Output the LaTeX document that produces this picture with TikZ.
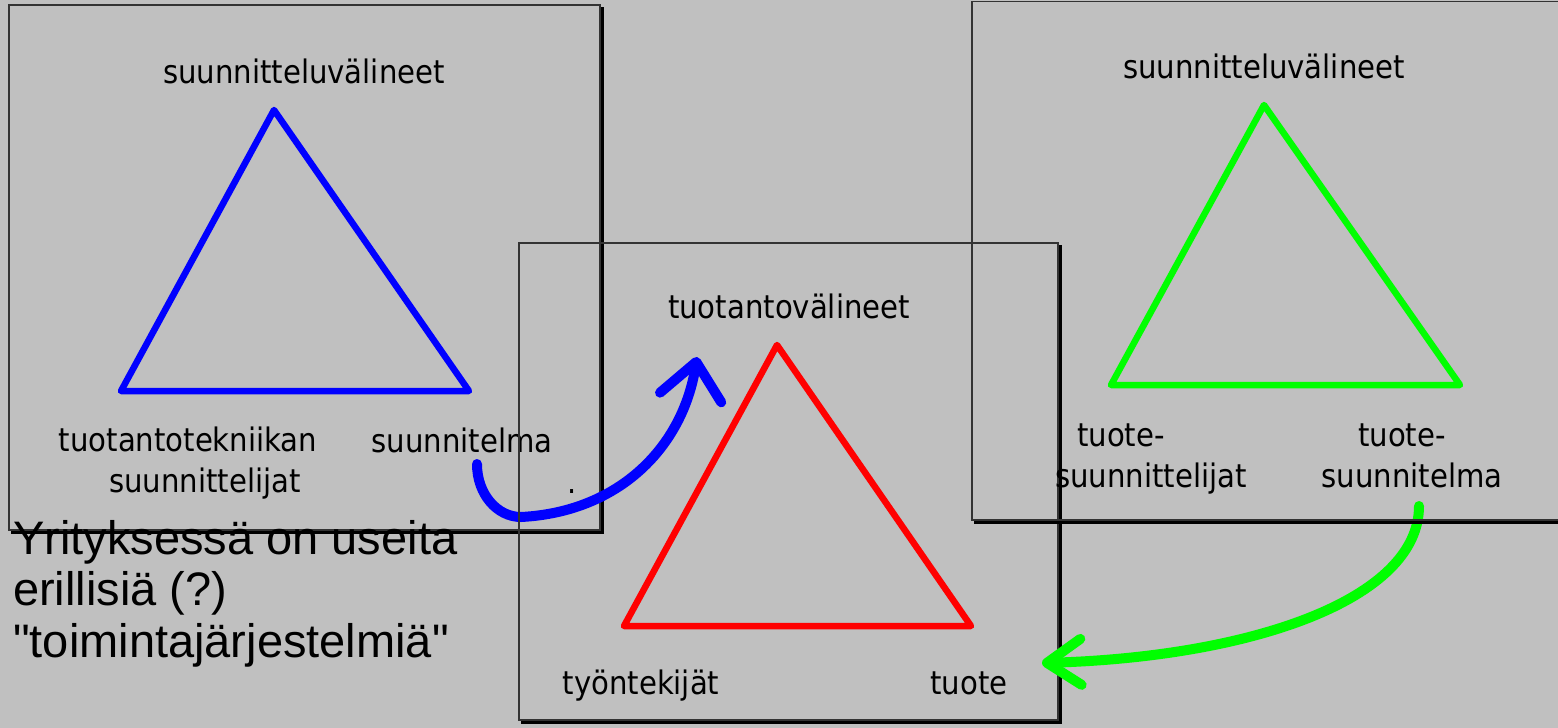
\documentclass[tikz,border=0pt]{standalone}
\usepackage{fontspec}
\setmainfont{DejaVu Sans Condensed}
\newfontfamily\notefont{Liberation Sans}
\usetikzlibrary{
	arrows.meta
}
\definecolor{slide}{RGB}{192,192,192}
\definecolor{tjblue}{RGB}{0,0,255}
\definecolor{tjred}{RGB}{255,0,0}
\definecolor{tjgreen}{RGB}{0,255,0}
\tikzset{
	TJ-Frame/.style={line width=1.2pt,draw=black!80},
	TJ-Shadow/.style={line width=3pt,draw=black},
	TJ-Triangle/.style={line width=6.5pt,line join=round,line cap=round},
	TJ-Label/.style={font=\fontsize{32.4}{40.5}\selectfont,inner sep=0pt,anchor=base,align=center},
	TJ-Arrow/.style={line width=10pt,line cap=round}
}

\begin{document}
\begin{tikzpicture}[x=1pt,y=-1pt]
	\fill[slide] (0,0) rectangle (1558,728);
	\useasboundingbox (0,0) rectangle (1558,728);
	% design system (blue)
	\draw[TJ-Frame] (9,5) rectangle (600,530);
	\draw[TJ-Shadow] (11,532) -- (602,532) -- (602,7);
	\coordinate (b-top) at (274,110);
	\coordinate (b-left) at (121,391);
	\coordinate (b-right) at (469,391);
	\draw[TJ-Triangle,tjblue] (b-top) -- (b-left) -- (b-right) -- cycle;
	\node[TJ-Label] (b-tools) at (304,83) {suunnitteluvälineet};
	% base anchor = last line
	\node[TJ-Label] (b-makers) at (205,492) {tuotantotekniikan\hspace*{34pt}\\suunnittelijat};
	\node[TJ-Label] (b-plan) at (462,452) {suunnitelma};
	\node[font=\fontsize{32}{32}\selectfont,inner sep=0pt,anchor=base] (dot) at (572,493) {.};
	\node[font=\notefont\fontsize{47}{51.5}\selectfont,inner sep=0pt,anchor=base west,align=left] (note) at (13,657)
		{Yrityksessä on useita\\erillisiä (?)\\"toimintajärjestelmiä"};
	% plan -> production tools
	\coordinate (b-from) at (477,464);
	\coordinate (b-to) at (697,357);
	\draw[TJ-Arrow,tjblue,-{Straight Barb[length=36pt,width=62pt,round]}] (b-from)
		.. controls (477,494) and (497,517) .. (521,517)
		.. controls (620,512) and (683,446) .. (b-to);
	% production system (red)
	\draw[TJ-Frame] (519,243) rectangle (1058,720);
	\draw[TJ-Shadow] (521,722) -- (1060,722) -- (1060,245);
	\coordinate (r-top) at (777,345);
	\coordinate (r-left) at (624,626);
	\coordinate (r-right) at (971,626);
	\draw[TJ-Triangle,tjred] (r-top) -- (r-left) -- (r-right) -- cycle;
	\node[TJ-Label] (r-tools) at (789,318) {tuotantovälineet};
	\node[TJ-Label] (r-workers) at (641,694) {työntekijät};
	\node[TJ-Label] (r-product) at (969,694) {tuote};
	% product design -> product
	\coordinate (g-from) at (1419,506);
	\coordinate (g-to) at (1042,663);
	\draw[TJ-Arrow,tjgreen,-{Straight Barb[length=34pt,width=46pt,round]}] (g-from)
		.. controls (1419,600) and (1250,657) .. (g-to);
	% product design system (green)
	\draw[TJ-Frame] (972,1.5) rectangle (1570,520);
	\draw[TJ-Shadow] (974,522) -- (1572,522);
	\coordinate (g-top) at (1264,105);
	\coordinate (g-left) at (1111,385);
	\coordinate (g-right) at (1460,385);
	\draw[TJ-Triangle,tjgreen] (g-top) -- (g-left) -- (g-right) -- cycle;
	\node[TJ-Label] (g-tools) at (1264,78) {suunnitteluvälineet};
	\node[TJ-Label] (g-designers) at (1151,487) {tuote-\hspace*{60pt}\\suunnittelijat};
	\node[TJ-Label] (g-design) at (1412,487) {tuote-\hspace*{20pt}\\suunnitelma};
\end{tikzpicture}
\end{document}
